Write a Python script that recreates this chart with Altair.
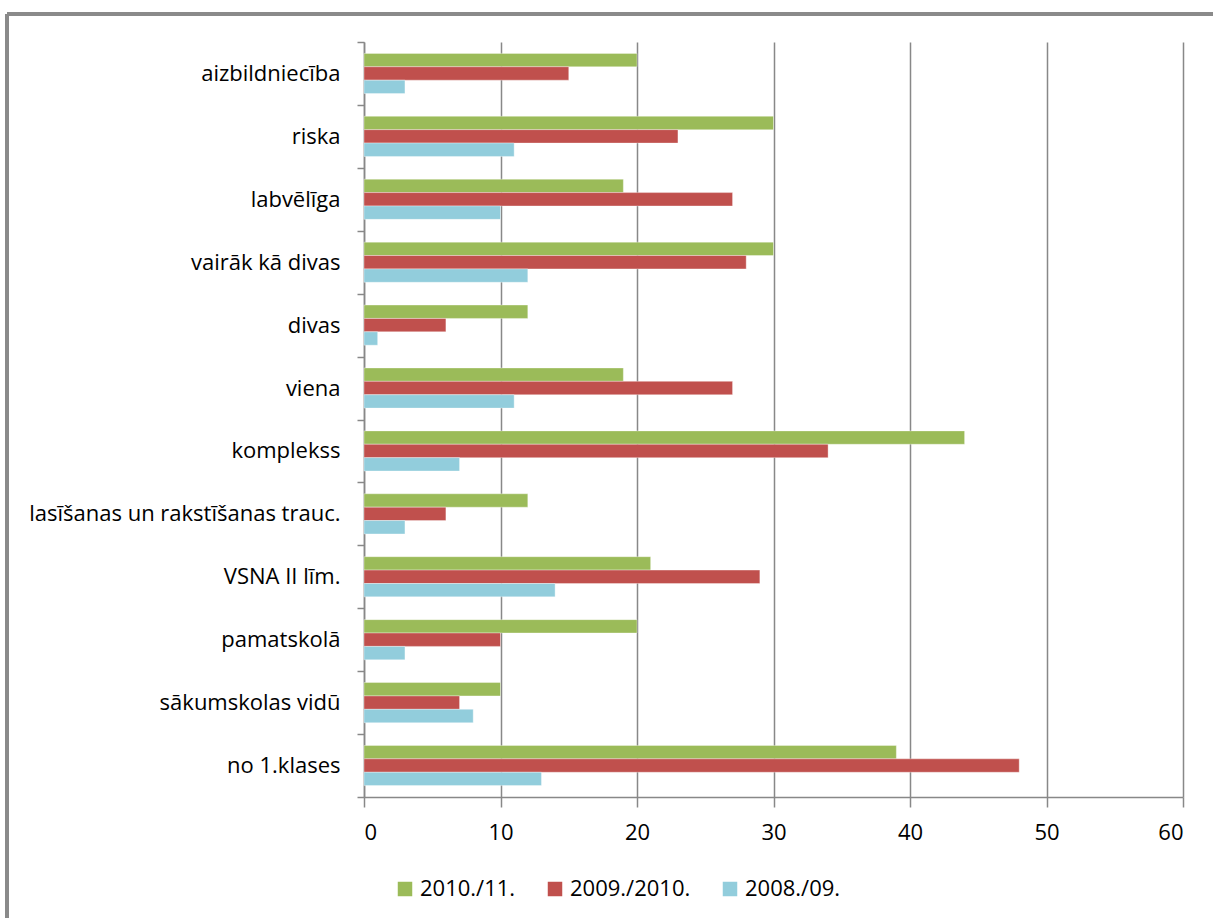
import altair as alt
import pandas as pd

categories = [
    "aizbildniecība", "riska", "labvēlīga", "vairāk kā divas", "divas", "viena",
    "komplekss", "lasīšanas un rakstīšanas trauc.", "VSNA II līm.", "pamatskolā",
    "sākumskolas vidū", "no 1.klases",
]
series = ["2010./11.", "2009./2010.", "2008./09."]
v_2010_11 = [20, 30, 19, 30, 12, 19, 44, 12, 21, 20, 10, 39]
v_2009_10 = [15, 23, 27, 28, 6, 27, 34, 6, 29, 10, 7, 48]
v_2008_09 = [3, 11, 10, 12, 1, 11, 7, 3, 14, 3, 8, 13]
colors = ["#9BBB59", "#C0504D", "#92CDDC"]
x_ticks = [0, 10, 20, 30, 40, 50, 60]

rows = []
for s, vals in zip(series, [v_2010_11, v_2009_10, v_2008_09]):
    for c, v in zip(categories, vals):
        rows.append({"cat": c, "series": s, "value": v})
df = pd.DataFrame(rows)

FONT = "Open Sans"
GRAY = "#888888"

bars = alt.Chart(df).mark_bar(stroke="white", strokeWidth=1, strokeOpacity=0.35).encode(
    x=alt.X("value:Q", scale=alt.Scale(domain=[0, 60], nice=False),
            axis=alt.Axis(values=x_ticks, title=None, grid=True, gridColor=GRAY, gridWidth=1.5,
                          domainColor=GRAY, domainWidth=1.5, tickColor=GRAY, tickWidth=1.5,
                          tickSize=10, labelPadding=15, labelFontSize=22, labelFont=FONT,
                          labelColor="#000000")),
    y=alt.Y("cat:N", sort=categories,
            scale=alt.Scale(paddingInner=0, paddingOuter=0),
            axis=alt.Axis(title=None, tickBand="extent", domainColor=GRAY, domainWidth=1.5,
                          tickColor=GRAY, tickWidth=1.5, tickSize=7, labelPadding=17,
                          labelFontSize=22, labelFont=FONT, labelColor="#000000",
                          labelLimit=400)),
    yOffset=alt.YOffset("series:N", sort=series,
                        scale=alt.Scale(paddingInner=0, paddingOuter=0.85)),
    color=alt.Color("series:N", sort=series,
                    scale=alt.Scale(domain=series, range=colors),
                    legend=alt.Legend(title=None, orient="none", legendX=30, legendY=836,
                                      direction="horizontal", symbolType="square",
                                      symbolSize=210, symbolStrokeWidth=0,
                                      labelFontSize=22, labelFont=FONT, labelColor="#000000",
                                      labelOffset=4, columnPadding=28)),
)

frame_left = alt.Chart(df).mark_rule(color="#8a8a8a", strokeWidth=3).encode(
    x=alt.value(-357), y=alt.value(-28), y2=alt.value(900))
frame_top = alt.Chart(df).mark_rule(color="#8a8a8a", strokeWidth=3).encode(
    x=alt.value(-357), x2=alt.value(900), y=alt.value(-28))

chart = alt.layer(bars, frame_left, frame_top).properties(
    width=819, height=755,
    autosize=alt.AutoSizeParams(type="none"),
    padding={"left": 364, "top": 42, "right": 30, "bottom": 121},
    background="white",
).configure_view(stroke=None)

chart.save("out.html", embed_options={"renderer": "svg", "actions": False})
